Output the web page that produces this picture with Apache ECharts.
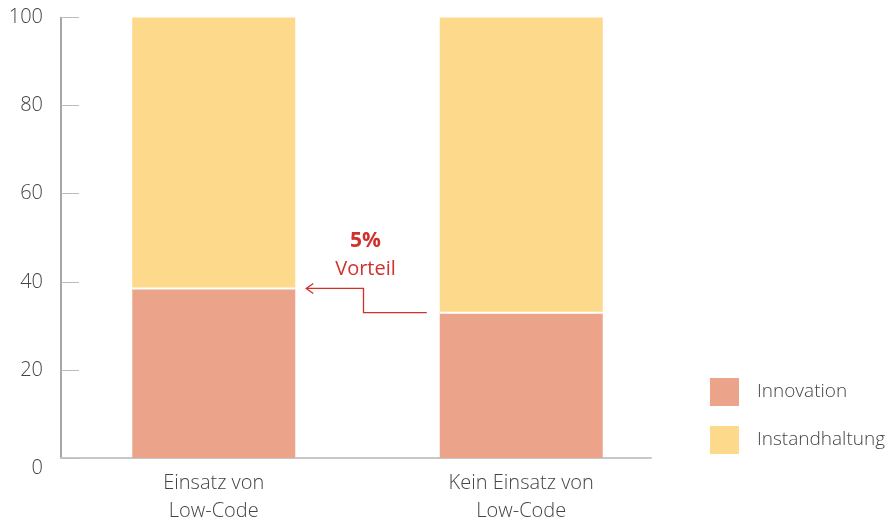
<!DOCTYPE html>
<html>
<head>
<meta charset="utf-8">
<script src="https://cdn.jsdelivr.net/npm/echarts@6/dist/echarts.min.js"></script>
<style>
  html, body { margin: 0; padding: 0; background: #fff; }
  #chart { width: 889px; height: 521px; }
</style>
</head>
<body>
<div id="chart"></div>
<script>
// Share of IT budget: innovation vs. maintenance, with and without low-code
const categories = ['Einsatz von\nLow-Code', 'Kein Einsatz von\nLow-Code'];
const seriesNames = ['Innovation', 'Instandhaltung'];
const innovation = [38.5, 33];
const instandhaltung = [61.5, 67];
const yTicks = [0, 20, 40, 60, 80, 100];
const advantageLabel = ['5%', 'Vorteil'];

const FONT = '"Open Sans", "Noto Sans", sans-serif';
const TEXT = '#444';
const COL_INNO = '#EBA48A';
const COL_MAINT = '#FDD98B';
const RED = '#D0312D';
const BAR_W = 163;

const chart = echarts.init(document.getElementById('chart'), null, { renderer: 'canvas' });

const yCommon = {
  type: 'value',
  min: yTicks[0],
  max: yTicks[yTicks.length - 1],
  interval: yTicks[1] - yTicks[0]
};

chart.setOption({
  animation: false,
  textStyle: { fontFamily: FONT },
  grid: [
    { left: 60, right: 214, top: 17.5, bottom: 63, containLabel: false, outerBoundsMode: 'none' },   // bars
    { left: 61, right: 238, top: 17.5, bottom: 63, containLabel: false, outerBoundsMode: 'none' }    // axis frame
  ],
  legend: {
    orient: 'vertical',
    left: 710,
    top: 378,
    padding: 0,
    itemWidth: 29,
    itemHeight: 28,
    itemGap: 20,
    icon: 'rect',
    data: seriesNames,
    textStyle: { color: TEXT, fontSize: 19, fontWeight: 300, fontFamily: FONT, padding: [4, 0, 0, 13] }
  },
  xAxis: [
    {
      gridIndex: 0,
      type: 'category',
      data: categories,
      axisLine: { show: false },
      axisTick: { show: false },
      axisLabel: { color: TEXT, fontSize: 20, fontWeight: 300, lineHeight: 28, margin: 11, interval: 0 }
    },
    {
      gridIndex: 1,
      type: 'category',
      data: categories,
      axisLine: { show: true, lineStyle: { color: '#c8c8c8', width: 2 } },
      axisTick: { show: false },
      axisLabel: { show: false }
    }
  ],
  yAxis: [
    Object.assign({}, yCommon, {
      gridIndex: 0,
      show: false,
      splitLine: { show: false }
    }),
    Object.assign({}, yCommon, {
      gridIndex: 1,
      axisLine: { show: true, lineStyle: { color: '#888', width: 1.5 } },
      axisTick: { show: true, inside: true, length: 18, lineStyle: { color: '#bbb', width: 1 } },
      splitLine: { show: false },
      axisLabel: {
        color: TEXT, fontSize: 20, fontWeight: 300, margin: 18,
        formatter: v => (v === 0 ? '{zero|0}' : String(v)),
        rich: { zero: { color: TEXT, fontSize: 20, fontWeight: 300, padding: [20, 0, 0, 0] } }
      }
    })
  ],
  series: [
    {
      name: seriesNames[0],
      type: 'bar',
      stack: 'budget',
      xAxisIndex: 0,
      yAxisIndex: 0,
      barWidth: BAR_W,
      data: innovation,
      itemStyle: { color: COL_INNO }
    },
    {
      name: seriesNames[1],
      type: 'bar',
      stack: 'budget',
      xAxisIndex: 0,
      yAxisIndex: 0,
      barWidth: BAR_W,
      data: instandhaltung,
      itemStyle: { color: COL_MAINT }
    }
  ]
});

// White separators between the stacked segments and the elbow arrow
function drawOverlay() {
  const centers = categories.map((_, i) => chart.convertToPixel({ xAxisIndex: 0 }, i));
  const tops = innovation.map(v => chart.convertToPixel({ yAxisIndex: 0 }, v));
  const c0 = centers[0], c1 = centers[1];
  const yHigh = tops[0];
  const yLow = tops[1];
  const xStart = c1 - BAR_W / 2 - 13;
  const xEnd = c0 + BAR_W / 2 + 11;
  const xBend = (c0 + c1) / 2 - 4;
  const midX = (c0 + c1) / 2 - 2;

  const separators = centers.map((c, i) => ({
    type: 'rect',
    shape: { x: c - BAR_W / 2, y: tops[i] - 1, width: BAR_W, height: 2 },
    style: { fill: '#fff' },
    z: 10
  }));

  chart.setOption({
    graphic: separators.concat([
      {
        type: 'polyline',
        shape: { points: [[xStart, yLow], [xBend, yLow], [xBend, yHigh], [xEnd, yHigh]] },
        style: { stroke: RED, lineWidth: 1.3, fill: null }
      },
      {
        type: 'polyline',
        shape: { points: [[xEnd + 7, yHigh - 5], [xEnd, yHigh], [xEnd + 7, yHigh + 5]] },
        style: { stroke: RED, lineWidth: 1.3, fill: null }
      },
      {
        type: 'text',
        x: midX, y: 241,
        style: { text: advantageLabel[0], fill: RED, font: 'bold 21px ' + FONT, align: 'center', verticalAlign: 'middle' }
      },
      {
        type: 'text',
        x: midX, y: 269,
        style: { text: advantageLabel[1], fill: RED, font: '20px ' + FONT, align: 'center', verticalAlign: 'middle' }
      }
    ])
  });
}
drawOverlay();
</script>
</body>
</html>
